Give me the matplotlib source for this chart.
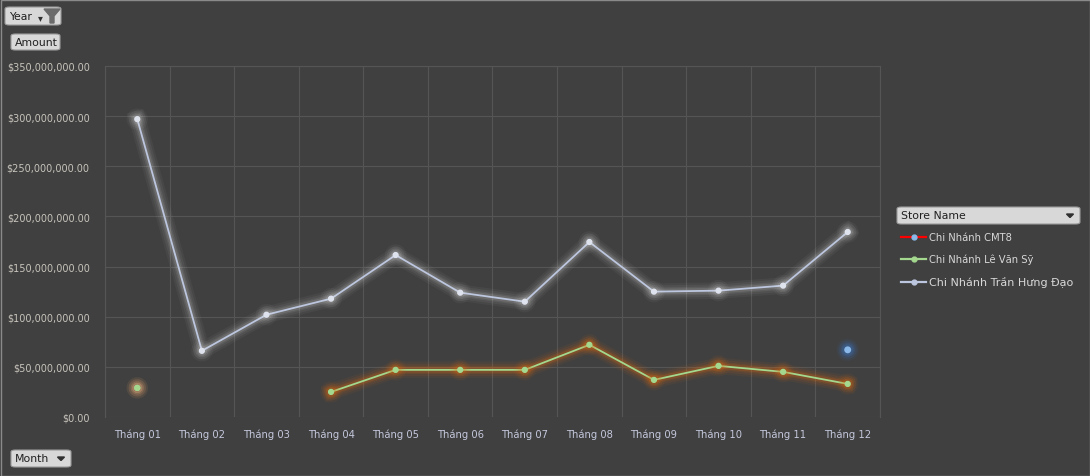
import numpy as np
import matplotlib.pyplot as plt
import matplotlib.patheffects as pe
from matplotlib.patches import FancyBboxPatch, Polygon
from matplotlib.lines import Line2D
from matplotlib.ticker import FuncFormatter

months = ['Tháng 01', 'Tháng 02', 'Tháng 03', 'Tháng 04', 'Tháng 05', 'Tháng 06',
          'Tháng 07', 'Tháng 08', 'Tháng 09', 'Tháng 10', 'Tháng 11', 'Tháng 12']
nan = np.nan
cmt8 = [nan, nan, nan, nan, nan, nan, nan, nan, nan, nan, nan, 67e6]
le_van_sy = [29e6, nan, nan, 25e6, 47e6, 47e6, 47e6, 72e6, 37e6, 51e6, 45e6, 33e6]
tran_hung_dao = [297e6, 66e6, 102e6, 118e6, 161.5e6, 124e6, 115e6, 174.5e6,
                 125e6, 126e6, 131e6, 184.5e6]
store_names = ['Chi Nhánh CMT8', 'Chi Nhánh Lê Văn Sỹ', 'Chi Nhánh Trần Hưng Đạo']

bg = '#404040'
grid = '#555555'

fig = plt.figure(figsize=(10.9, 4.77), dpi=100, facecolor=bg)
ax = fig.add_axes([105/1090, 1-418/477, 775/1090, 351/477])
ax.set_facecolor(bg)

x = np.arange(len(months))


def glow(color, widths=(12, 9, 6, 4), alphas=(0.04, 0.05, 0.07, 0.1)):
    return [pe.Stroke(linewidth=w, foreground=color, alpha=a) for w, a in zip(widths, alphas)] + [pe.Normal()]


ax.plot(x, tran_hung_dao, color='#bcc6de', lw=1.3, marker='o', ms=3.5,
        mfc='#dfe3ee', mec='#dfe3ee', path_effects=glow('#ffffff'), zorder=4)
ax.plot(x, le_van_sy, color='#a4d88e', lw=1.3, marker='o', ms=3.5,
        mfc='#a4d88e', mec='#a4d88e',
        path_effects=glow('#e06a10', alphas=(0.06, 0.09, 0.13, 0.2)), zorder=4)
# isolated Tháng 01 point has a pale glow
ax.plot(x[:1], le_van_sy[:1], ls='none', marker='o', ms=3.5, mfc='#a4d88e', mec='#a4d88e',
        path_effects=glow('#f0dcc0', alphas=(0.06, 0.09, 0.13, 0.2)), zorder=5)
ax.plot(x, cmt8, color='red', lw=1.3, marker='o', ms=4, mfc='#8ab8e8', mec='#8ab8e8',
        path_effects=glow('#3a7ad0', alphas=(0.08, 0.12, 0.18, 0.25)), zorder=4)

ax.set_xlim(-0.5, 11.5)
ax.set_ylim(0, 350e6)
ax.set_yticks(np.arange(0, 350e6 + 1, 50e6))
ax.yaxis.set_major_formatter(FuncFormatter(lambda v, p: '${:,.2f}'.format(v)))
ax.set_xticks(x)
ax.set_xticklabels(months)
ax.set_xticks(np.arange(-0.5, 12, 1), minor=True)
ax.grid(axis='x', which='minor', color=grid, lw=0.8)
ax.grid(axis='y', which='major', color=grid, lw=0.8)
ax.tick_params(which='both', length=0)
ax.tick_params(axis='y', colors='#c8c4bc', labelsize=7, pad=11)
ax.tick_params(axis='x', colors='#c4c8dc', labelsize=7.2, pad=8)
for s in ax.spines.values():
    s.set_color(grid)
    s.set_linewidth(0.8)
ax.spines['bottom'].set_visible(False)


def button(x0, y0, w, h, label, arrow=False, funnel=False, fs=7.8):
    fx, fy = x0/1090, 1-(y0+h)/477
    fw, fh = w/1090, h/477
    fig.patches.append(FancyBboxPatch((fx, fy), fw, fh, boxstyle='round,pad=0,rounding_size=0.004',
                                      transform=fig.transFigure, facecolor='#d8d8d8',
                                      edgecolor='#9a9a9a', lw=0.8))
    fig.text(fx + 4/1090, fy + fh/2, label, fontsize=fs, color='#202020', va='center', ha='left')
    if arrow:
        ax_ = x0 + w - 10
        ay = y0 + h/2
        fig.patches.append(Polygon([((ax_-3.5)/1090, 1-(ay-1.5)/477), ((ax_+3.5)/1090, 1-(ay-1.5)/477),
                                    (ax_/1090, 1-(ay+2)/477)], closed=True,
                                   transform=fig.transFigure, color='#303030'))
    if funnel:
        cx = x0 + w - 9
        top = y0 + 2
        fig.patches.append(Polygon([((cx-8)/1090, 1-top/477), ((cx+8)/1090, 1-top/477),
                                    ((cx+2)/1090, 1-(top+7)/477), ((cx+2)/1090, 1-(top+14)/477),
                                    ((cx-2)/1090, 1-(top+14)/477), ((cx-2)/1090, 1-(top+7)/477)],
                                   closed=True, transform=fig.transFigure, color='#6a6a6a'))


button(5, 8, 56, 18, 'Year', arrow=False, funnel=True)
fig.text(40/1090, 1-18/477, '▾', fontsize=7, color='#303030', ha='center', va='center')
button(11, 35, 49, 16, 'Amount')
button(11, 451, 60, 17, 'Month', arrow=True)
button(897, 208, 183, 17, 'Store Name', arrow=True)

# legend
colors = ['red', '#a4d88e', '#bcc6de']
mcolors = ['#8ab8e8', '#a4d88e', '#bcc6de']
ys = [238, 260, 283]
sizes = [7.2, 7.2, 8]
for name, c, mc, yy, fs in zip(store_names, colors, mcolors, ys, sizes):
    fy = 1 - yy/477
    fig.add_artist(Line2D([901/1090, 926/1090], [fy, fy], color=c, lw=1.6,
                          transform=fig.transFigure))
    fig.add_artist(Line2D([913.5/1090], [fy], marker='o', ms=3.5, color=mc, ls='none',
                          transform=fig.transFigure))
    fig.text(929/1090, fy, name, fontsize=fs, color='#d8d8d8', va='center', ha='left')

# outer frame
fig.patches.append(FancyBboxPatch((0.5/1090, 0.5/477), 1-1/1090, 1-1/477, boxstyle='square,pad=0',
                                  transform=fig.transFigure, facecolor='none',
                                  edgecolor='#8a8a8a', lw=1))

fig.savefig('out.png', dpi=100, facecolor=bg)
